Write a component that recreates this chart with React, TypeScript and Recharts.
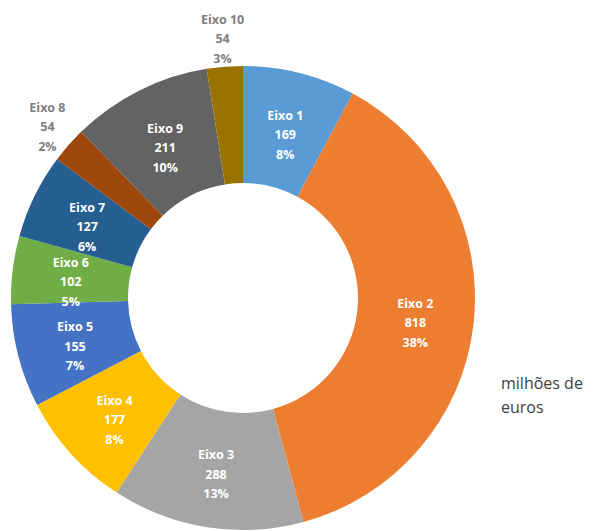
import React from "react";
import { PieChart, Pie, Cell } from "recharts";

const eixos = ["Eixo 1", "Eixo 2", "Eixo 3", "Eixo 4", "Eixo 5", "Eixo 6", "Eixo 7", "Eixo 8", "Eixo 9", "Eixo 10"];
const valores = [169, 818, 288, 177, 155, 102, 127, 54, 211, 54];
const percentagens = ["8%", "38%", "13%", "8%", "7%", "5%", "6%", "2%", "10%", "3%"];
const cores = ["#5B9BD5", "#ED7D31", "#A5A5A5", "#FFC000", "#4472C4", "#70AD47", "#255E91", "#9E480E", "#636363", "#997300"];
// fatias pequenas com rotulo por fora
const fora = ["Eixo 8", "Eixo 10"];

const dados = eixos.map((nome, i) => ({ nome, valor: valores[i], pct: percentagens[i] }));

const RADIAN = Math.PI / 180;

const Rotulo = (props: any) => {
  const { cx, cy, midAngle, innerRadius, outerRadius, index } = props;
  const d = dados[index];
  const ext = fora.includes(d.nome);
  const r = ext ? outerRadius + 28 : (innerRadius + outerRadius) / 2;
  const x = cx + r * Math.cos(-midAngle * RADIAN);
  const y = cy + r * Math.sin(-midAngle * RADIAN);
  const cor = ext ? "#7F7F7F" : "#FFFFFF";
  return (
    <text
      x={x}
      y={y}
      fill={cor}
      textAnchor="middle"
      fontFamily="'Open Sans', sans-serif"
      fontWeight="bold"
      fontSize={12.5}
    >
      <tspan x={x} dy={ext ? -15 : -10}>{d.nome}</tspan>
      <tspan x={x} dy={19.5}>{d.valor}</tspan>
      <tspan x={x} dy={19.5}>{d.pct}</tspan>
    </text>
  );
};

export default function App() {
  return (
    <div style={{ position: "absolute", left: 0, top: 0, width: 596, height: 531 }}>
      <PieChart width={596} height={531} margin={{ top: 0, right: 0, bottom: 0, left: 0 }}>
        <Pie
          data={dados}
          dataKey="valor"
          nameKey="nome"
          cx={243}
          cy={298}
          innerRadius={115}
          outerRadius={232}
          startAngle={90}
          endAngle={-270}
          stroke="none"
          label={Rotulo}
          labelLine={false}
          isAnimationActive={false}
        >
          {dados.map((_, i) => (
            <Cell key={i} fill={cores[i]} />
          ))}
        </Pie>
      </PieChart>
      <div
        style={{
          position: "absolute",
          left: 501,
          top: 371,
          fontFamily: "'Open Sans', sans-serif",
          fontSize: 16,
          lineHeight: "24px",
          color: "#404040",
        }}
      >
        milhões de
        <br />
        euros
      </div>
    </div>
  );
}
